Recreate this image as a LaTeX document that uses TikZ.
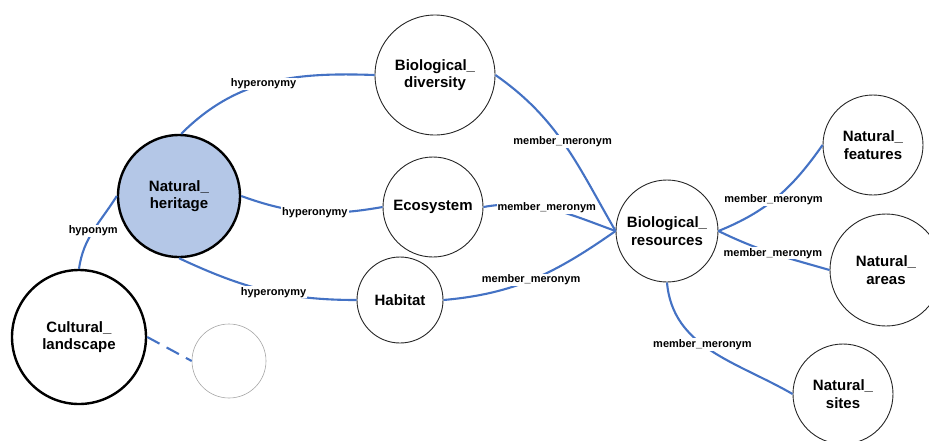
\documentclass[tikz,border=0pt]{standalone}
\usepackage{fontspec}
\setmainfont{Liberation Sans}
\definecolor{edgeblue}{HTML}{4472C4}
\definecolor{heritagefill}{HTML}{B4C7E7}
\begin{document}
\begin{tikzpicture}[x=1pt,y=1pt,
  concept/.style={circle, draw=black!85, line width=0.9pt, align=center,
    font=\bfseries\fontsize{15}{17.5}\selectfont, inner sep=0pt},
  keyconcept/.style={concept, draw=black, line width=2.4pt},
  blankconcept/.style={circle, draw=black!35, line width=0.6pt},
  relation/.style={draw=edgeblue, line width=2.1pt},
  rellabel/.style={fill=white, inner sep=1pt, font=\bfseries\fontsize{11}{13}\selectfont}
]
\useasboundingbox (0,0) rectangle (929,-440);

% concepts
\node[keyconcept, fill=heritagefill, minimum size=122] (nh) at (179,-196) {Natural\_\\heritage};
\node[keyconcept, minimum size=134] (cl) at (79,-337) {Cultural\_\\landscape};
\node[blankconcept, minimum size=74] (blank) at (229,-361) {};
\node[concept, minimum size=120] (bd) at (435,-75) {Biological\_\\diversity};
\node[concept, minimum size=100] (eco) at (433,-207) {Ecosystem};
\node[concept, minimum size=86] (hab) at (400,-300) {Habitat};
\node[concept, minimum size=102] (br) at (667,-231) {Biological\_\\resources};
\node[concept, minimum size=100] (nf) at (873,-145) {Natural\_\\features};
\node[concept, minimum size=112] (na) at (886,-270) {Natural\_\\areas};
\node[concept, minimum size=100] (ns) at (843,-394) {Natural\_\\sites};

% relations
\draw[relation] (nh.88) to[out=45,in=178] node[rellabel, pos=0.47]{hyperonymy} (bd.west);
\draw[relation] (nh.east) to[out=-20,in=190] node[rellabel, pos=0.53]{hyperonymy} (eco.west);
\draw[relation] (nh.south) to[out=-25,in=180] node[rellabel, pos=0.55]{hyperonymy} (hab.west);
\draw[relation] (nh.west) to[out=238,in=82] node[rellabel]{hyponym} (cl.north);
\draw[relation, dash pattern=on 14pt off 8pt] (cl.east) -- (blank.west);
\draw[relation] (bd.east) to[out=-35,in=120] node[rellabel, pos=0.48]{member\_meronym} (br.west);
\draw[relation] (eco.east) to[out=10,in=160] node[rellabel, pos=0.47]{member\_meronym} (br.west);
\draw[relation] (hab.east) to[out=5,in=215] node[rellabel, pos=0.48]{member\_meronym} (br.west);
\draw[relation] (br.east) to[out=22,in=235] node[rellabel, pos=0.46]{member\_meronym} (nf.west);
\draw[relation] (br.east) to[out=-26,in=164] node[rellabel]{member\_meronym} (na.west);
\draw[relation] (br.south) to[out=-85,in=150] node[rellabel, pos=0.44]{member\_meronym} (ns.west);
\end{tikzpicture}
\end{document}
